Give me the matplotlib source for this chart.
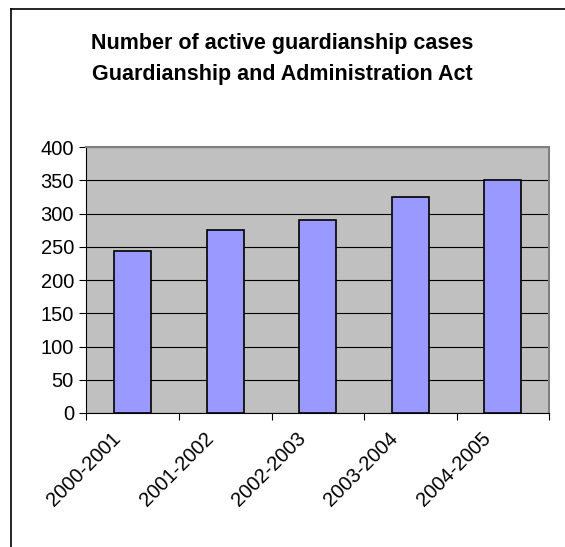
import matplotlib
matplotlib.use("Agg")
import matplotlib.pyplot as plt
from matplotlib.lines import Line2D
from matplotlib.transforms import ScaledTranslation
import numpy as np

# Active guardianship cases per financial year
years = ["2000-2001", "2001-2002", "2002-2003", "2003-2004", "2004-2005"]
cases = [244, 275, 290, 325, 350]
y_ticks = [0, 50, 100, 150, 200, 250, 300, 350, 400]

plt.rcParams["font.family"] = ["Liberation Sans", "DejaVu Sans"]

fig = plt.figure(figsize=(5.65, 5.47), dpi=100)
ax = fig.add_axes([0.153, 0.245, 0.819, 0.486])

x = np.arange(len(years))
ax.set_facecolor("#C0C0C0")
ax.set_axisbelow(True)
ax.yaxis.grid(True, color="black", linewidth=0.8)
ax.bar(x, cases, width=0.4, color="#9999FF", edgecolor="black", linewidth=1.2, zorder=3)

ax.set_xlim(-0.5, len(years) - 0.5)
ax.set_ylim(0, 400)
ax.set_yticks(y_ticks)
ax.tick_params(axis="y", direction="out", length=5, width=0.8, labelsize=14.5, pad=4)

# category labels at centres, tick marks at category boundaries
ax.set_xticks(x)
ax.set_xticklabels(years, rotation=45, ha="right", va="center", rotation_mode="anchor", fontsize=14.5)
ax.tick_params(axis="x", which="major", length=0, pad=16)
shift = ScaledTranslation(-15 / 100, 0, fig.dpi_scale_trans)
for lbl in ax.get_xticklabels():
    lbl.set_transform(lbl.get_transform() + shift)
ax.set_xticks(np.arange(-0.5, len(years)), minor=True)
ax.tick_params(axis="x", which="minor", direction="out", length=5, width=0.8)

for side in ("top", "right"):
    ax.spines[side].set_color("#808080")
    ax.spines[side].set_linewidth(1.5)
for side in ("left", "bottom"):
    ax.spines[side].set_color("black")
    ax.spines[side].set_linewidth(0.8)

fig.text(0.5, 1 - 59 / 547, "Number of active guardianship cases\nGuardianship and Administration Act",
         ha="center", va="center", fontsize=15.5, fontweight="bold", linespacing=1.6)

# chart frame (top and left edges)
fig.add_artist(Line2D([11 / 565, 11 / 565], [0, 1 - 9 / 547], color="black", linewidth=1.2,
                      transform=fig.transFigure))
fig.add_artist(Line2D([11 / 565, 1], [1 - 9 / 547, 1 - 9 / 547], color="black", linewidth=1.2,
                      transform=fig.transFigure))

fig.savefig("out.png", dpi=100)
